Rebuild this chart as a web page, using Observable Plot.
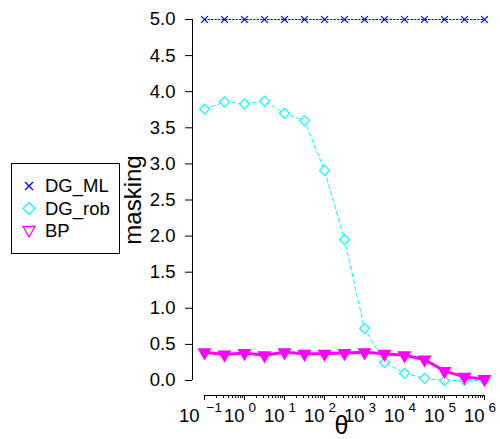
<!DOCTYPE html>
<html>
<head>
<meta charset="utf-8">
<script src="https://cdn.jsdelivr.net/npm/d3@7"></script>
<script src="https://cdn.jsdelivr.net/npm/@observablehq/plot@0.6"></script>
<style>
  html, body { margin: 0; padding: 0; background: #fff; }
  #wrap { position: relative; width: 500px; height: 439px; font-family: "Liberation Sans", Arial, Helvetica, sans-serif; }
  #legend { position: absolute; left: 11px; top: 163px; width: 107px; height: 89px; border: 1px solid #000; background: #fff; }
  #legend svg { position: absolute; left: 0; top: 0; }
</style>
</head>
<body>
<div id="wrap"><div id="chart"></div><div id="legend"></div></div>
<script>
// ---- data ----
const theta = [0.1, 0.316, 1, 3.16, 10, 31.6, 100, 316, 1000, 3162, 10000, 31623, 100000, 316228, 1000000];
const DG_ML  = [5, 5, 5, 5, 5, 5, 5, 5, 5, 5, 5, 5, 5, 5, 5];
const DG_rob = [3.76, 3.86, 3.83, 3.87, 3.70, 3.60, 2.91, 1.95, 0.72, 0.25, 0.10, 0.03, 0.00, 0.00, 0.00];
const BP     = [0.39, 0.36, 0.38, 0.35, 0.39, 0.37, 0.37, 0.38, 0.39, 0.37, 0.35, 0.29, 0.13, 0.05, 0.02];
const seriesNames = ["DG_ML", "DG_rob", "BP"];
const yTicks = [0, 0.5, 1, 1.5, 2, 2.5, 3, 3.5, 4, 4.5, 5];
const xMajor = [0.1, 1, 10, 100, 1000, 10000, 100000, 1000000];
const xExpLabels = ["\u22121", "0", "1", "2", "3", "4", "5", "6"];

// minor ticks 2..9 per decade
const xMinor = [];
for (let i = 0; i < xMajor.length - 1; i++) for (let k = 2; k <= 9; k++) xMinor.push(xMajor[i] * k);

const rows = (vals, name) => theta.map((t, i) => ({theta: t, value: vals[i], series: name}));
const dML = rows(DG_ML, "DG_ML"), dRob = rows(DG_rob, "DG_rob"), dBP = rows(BP, "BP");
const majors = xMajor.map((v, i) => ({v, e: xExpLabels[i]}));
const majLong = majors.filter(d => d.e.length > 1), majShort = majors.filter(d => d.e.length === 1);

const blue = "#0000ff", cyan = "#00ffff", magenta = "#ff00ff";

const chart = Plot.plot({
  width: 500, height: 439,
  marginLeft: 204, marginRight: 16, marginTop: 19, marginBottom: 59,
  style: {fontFamily: '"Liberation Sans", Arial, Helvetica, sans-serif', fontSize: "18px", color: "#000", background: "#fff"},
  x: {type: "log", domain: [0.1, 1000000]},
  y: {domain: [0, 5]},
  marks: [
    // y axis
    Plot.ruleX([0.1], {y1: 0, y2: 5, dx: -12, stroke: "#000", strokeWidth: 1}),
    Plot.axisY({ticks: yTicks, tickFormat: d3.format(".1f"), tickSize: 7, tickPadding: 10, dx: -12, label: null, fontSize: 18.5}),
    // x axis
    Plot.ruleY([0], {x1: 0.1, x2: 1000000, dy: 15, stroke: "#000", strokeWidth: 1}),
    Plot.axisX({ticks: xMajor, tickSize: 5, tickFormat: () => "", dy: 15, label: null}),
    Plot.axisX({ticks: xMinor, tickSize: 3, tickFormat: () => "", dy: 15, label: null}),
    Plot.text(majLong, {x: "v", y: () => 0, text: () => "10", textAnchor: "end", dx: -5, dy: 36, fontSize: 18.5}),
    Plot.text(majLong, {x: "v", y: () => 0, text: "e", textAnchor: "start", dx: 2, dy: 27, fontSize: 13.5}),
    Plot.text(majShort, {x: "v", y: () => 0, text: () => "10", textAnchor: "end", dx: 0, dy: 36, fontSize: 18.5}),
    Plot.text(majShort, {x: "v", y: () => 0, text: "e", textAnchor: "start", dx: 4, dy: 27, fontSize: 13.5}),
    // axis titles
    Plot.text(["\u03b8"], {frameAnchor: "bottom", dx: -3, dy: 53, fontSize: 25}),
    Plot.text(["masking"], {frameAnchor: "left", textAnchor: "middle", dx: -71, rotate: -90, fontSize: 24}),
    // DG_ML
    Plot.line(dML, {x: "theta", y: "value", stroke: blue, strokeWidth: 1, strokeDasharray: "1.5,2"}),
    Plot.dot(dML, {x: "theta", y: "value", symbol: "times", r: 3.2, stroke: blue, strokeWidth: 1.2}),
    // DG_rob
    Plot.line(dRob, {x: "theta", y: "value", stroke: cyan, strokeWidth: 1, strokeDasharray: "4,3"}),
    Plot.dot(dRob, {x: "theta", y: "value", symbol: "diamond2", r: 4.5, stroke: cyan, fill: "white", strokeWidth: 1.2}),
    // BP
    Plot.line(dBP, {x: "theta", y: "value", stroke: magenta, strokeWidth: 3}),
    Plot.dot(dBP, {x: "theta", y: "value", symbol: "triangle2", rotate: 180, r: 5.5, fill: magenta, stroke: magenta, strokeWidth: 1.5})
  ]
});
document.getElementById("chart").appendChild(chart);

// legend
const legendItems = [
  {name: seriesNames[0], color: blue, kind: "times"},
  {name: seriesNames[1], color: cyan, kind: "diamond"},
  {name: seriesNames[2], color: magenta, kind: "tri"}
];
const ns = "http://www.w3.org/2000/svg";
const lsvg = document.createElementNS(ns, "svg");
lsvg.setAttribute("width", 107); lsvg.setAttribute("height", 89);
legendItems.forEach((it, i) => {
  const cy = 22 + i * 22.5, cx = 17;
  const sh = document.createElementNS(ns, "path");
  if (it.kind === "times") {
    sh.setAttribute("d", `M${cx-4},${cy-4}L${cx+4},${cy+4}M${cx-4},${cy+4}L${cx+4},${cy-4}`);
  } else if (it.kind === "diamond") {
    sh.setAttribute("d", `M${cx},${cy-6}L${cx+6},${cy}L${cx},${cy+6}L${cx-6},${cy}Z`);
  } else {
    sh.setAttribute("d", `M${cx-6},${cy-4.5}L${cx+6},${cy-4.5}L${cx},${cy+6}Z`);
  }
  sh.setAttribute("fill", "none");
  sh.setAttribute("stroke", it.color); sh.setAttribute("stroke-width", 1.3);
  lsvg.appendChild(sh);
  const t = document.createElementNS(ns, "text");
  t.setAttribute("x", 33); t.setAttribute("y", cy); t.setAttribute("dy", "0.35em");
  t.setAttribute("font-size", 18.5);
  t.setAttribute("font-family", '"Liberation Sans", Arial, sans-serif');
  t.textContent = it.name;
  lsvg.appendChild(t);
});
document.getElementById("legend").appendChild(lsvg);
</script>
</body>
</html>
